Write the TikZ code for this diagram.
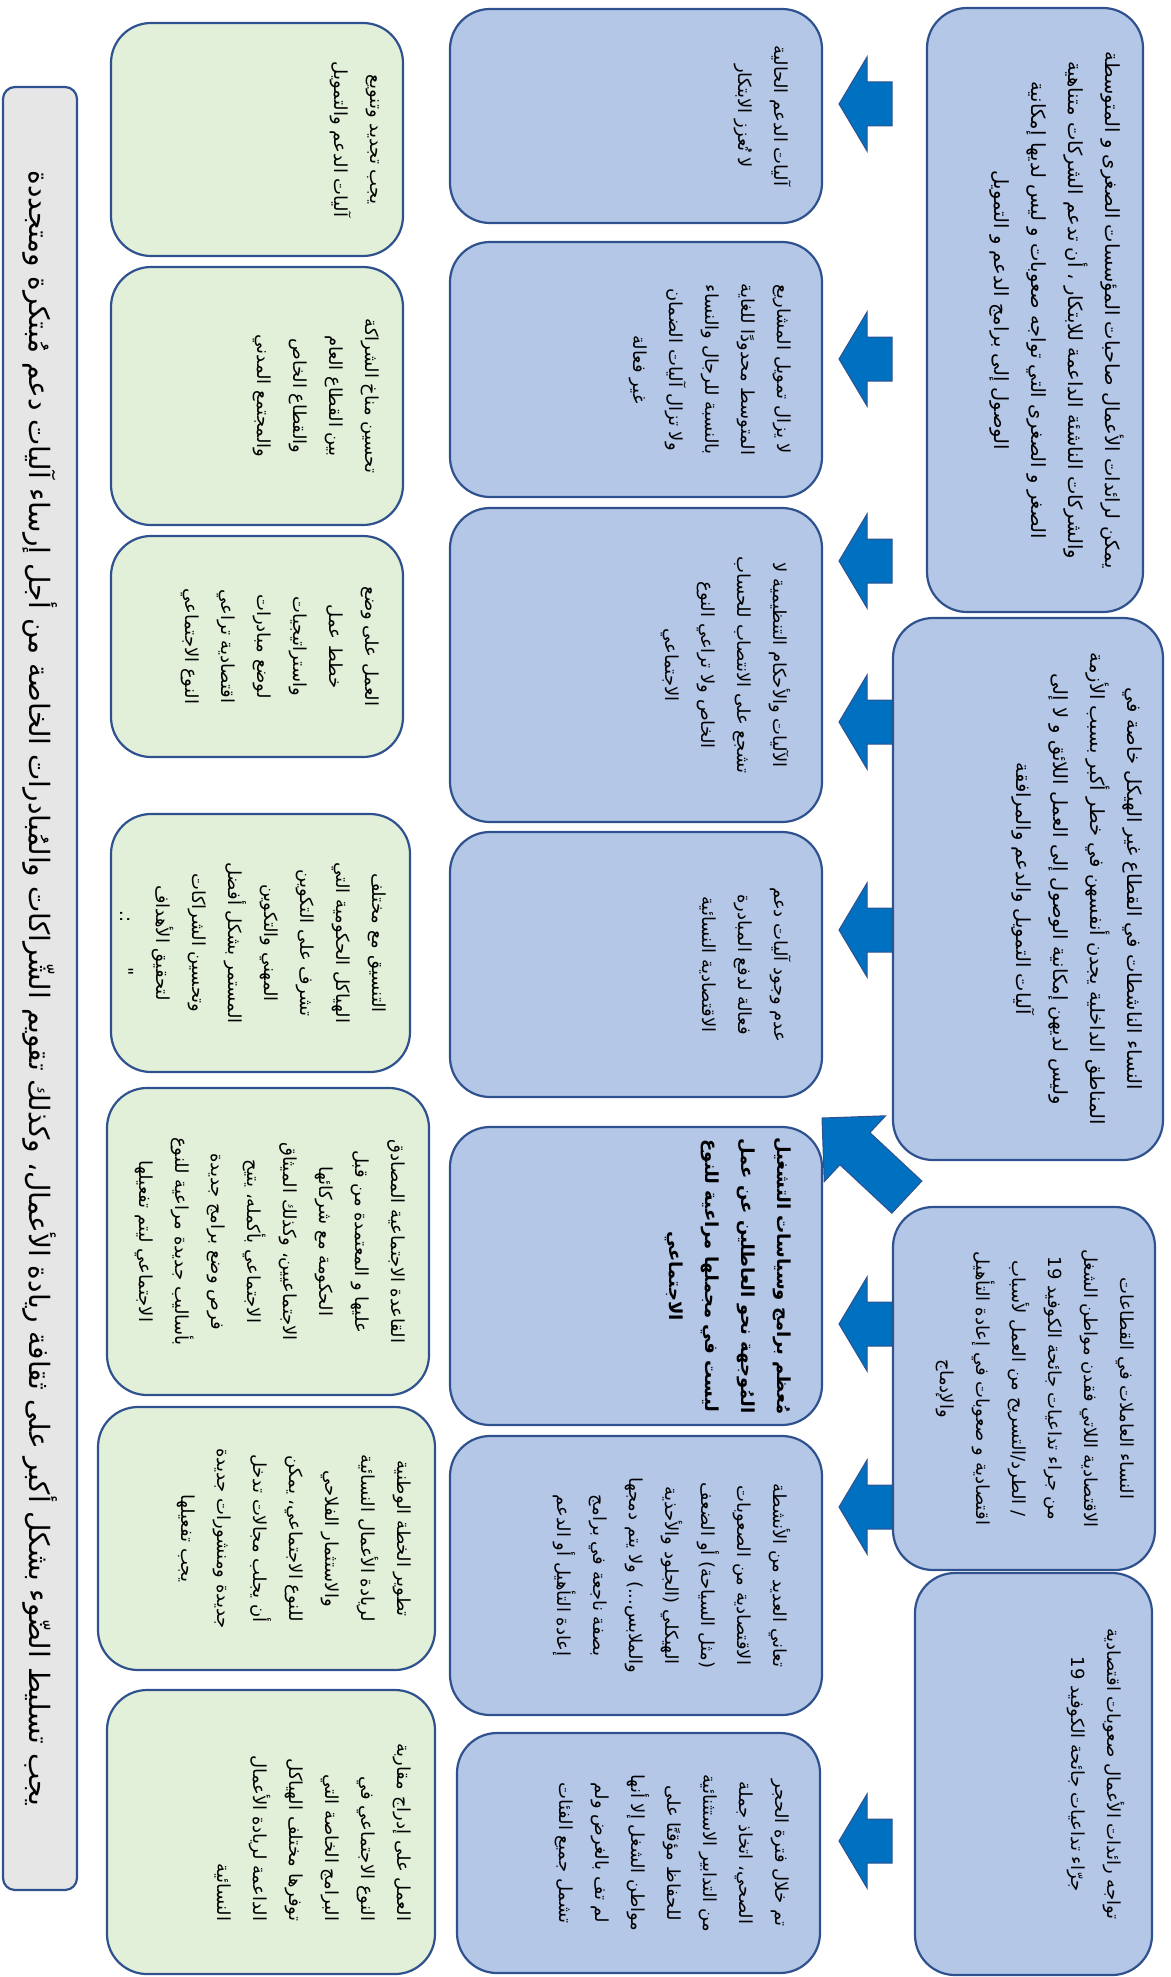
\documentclass[tikz,border=0pt]{standalone}
\usepackage{fontspec}
\usepackage{tikz}
\usetikzlibrary{calc}
\TeXXeTstate=1
\newfontfamily\arabicfont[Script=Arabic]{DejaVu Sans}
\definecolor{boxblue}{HTML}{B4C7E7}
\definecolor{boxgreen}{HTML}{E2F0D9}
\definecolor{boxgray}{HTML}{E7E6E6}
\definecolor{edgeblue}{HTML}{2F528F}
\definecolor{arrowblue}{HTML}{0070C0}
\definecolor{arrowedge}{HTML}{2F528F}
\newcommand{\ar}[1]{\beginR #1\endR}
% left-pointing block arrow, tip at (#1,#2)
\newcommand{\lftarrow}[2]{\path[blk] (#1,#2) -- ++(28,-47) -- ++(0,25) -- ++(25,0)
  -- ++(0,44) -- ++(-25,0) -- ++(0,25) -- cycle;}

\begin{document}
\begin{tikzpicture}[x=1pt, y=-1pt,
  card/.style={draw=edgeblue, line width=2.2pt, rounded corners=40pt, inner sep=0pt},
  bluecard/.style={card, fill=boxblue},
  greencard/.style={card, fill=boxgreen},
  txt/.style={rotate=-90, align=center, inner sep=0pt,
    font=\arabicfont\fontsize{18}{36}\selectfont},
  bigtxt/.style={txt, font=\arabicfont\fontsize{19.5}{37}\selectfont},
  blk/.style={fill=arrowblue, draw=arrowedge, line width=1pt}
]
  \useasboundingbox (0,0) rectangle (1170,1977);

  % Causes (right column)
  \node[bluecard, minimum width=216pt, minimum height=604pt] (r1) at (1035,310) {};
  \node[bluecard, minimum width=270pt, minimum height=542pt] (r2) at (1028,889) {};
  \node[bluecard, minimum width=262pt, minimum height=363pt] (r3) at (1024,1388.5) {};
  \node[bluecard, minimum width=237pt, minimum height=402pt] (r4) at (1033.5,1774) {};

  \node[bigtxt, anchor=north] (r1t) at ($(r1.east)+(-20,0)$)
    {\ar{يمكن لرائدات الأعمال صاحبات المؤسسات الصغرى و المتوسطة}\\
     \ar{والشركات الناشئة الداعمة للابتكار ، أن تدعم الشركات متناهية}\\
     \ar{الصغر و الصغرى التي تواجه صعوبات و ليس لديها إمكانية}\\
     \ar{الوصول إلى برامج الدعم و التمويل}};
  \node[bigtxt, anchor=north] (r2t) at ($(r2.east)+(-22,0)$)
    {\ar{النساء الناشطات في القطاع غير الهيكل خاصة في}\\
     \ar{المناطق الداخلية يجدن أنفسهن في خطر أكبر بسبب الأزمة}\\
     \ar{وليس لديهن إمكانية الوصول إلى العمل اللائق و لا إلى}\\
     \ar{آليات التمويل والدعم والمرافقة}};
  \node[txt, anchor=north] (r3t) at ($(r3.east)+(-22,0)$)
    {\ar{النساء العاملات في القطاعات}\\
     \ar{الاقتصادية اللاتي فقدن مواطن الشغل}\\
     \ar{من جراء تداعيات جائحة الكوفيد 19}\\
     \ar{/ الطرد/التسريح من العمل لأسباب}\\
     \ar{اقتصادية و صعوبات في إعادة التأهيل}\\
     \ar{والإدماج}};
  \node[txt, anchor=north] (r4t) at ($(r4.east)+(-28,0)$)
    {\ar{تواجه رائدات الأعمال صعوبات اقتصادية}\\
     \ar{جرّاء تداعيات جائحة الكوفيد 19}};

  % Problems (middle column)
  \node[bluecard, minimum width=372pt, minimum height=214pt] (m1) at (636,116) {};
  \node[bluecard, minimum width=372pt, minimum height=255pt] (m2) at (636,369.5) {};
  \node[bluecard, minimum width=372pt, minimum height=314pt] (m3) at (636,665) {};
  \node[bluecard, minimum width=372pt, minimum height=265pt] (m4) at (636,964.5) {};
  \node[bluecard, minimum width=372pt, minimum height=298pt] (m5) at (636,1276) {};
  \node[bluecard, minimum width=372pt, minimum height=279pt] (m6) at (636,1575.5) {};
  \node[bluecard, minimum width=363pt, minimum height=240pt] (m7) at (638.5,1853) {};

  \node[txt, anchor=north] (m1t) at ($(m1.east)+(-32,0)$)
    {\ar{آليات الدعم الحالية}\\ \ar{لا تُعزز الابتكار}};
  \node[txt, anchor=north] (m2t) at ($(m2.east)+(-32,0)$)
    {\ar{لا يزال تمويل المشاريع}\\ \ar{المتوسط محدودًا للغاية}\\
     \ar{بالنسبة للرجال والنساء}\\ \ar{ولا تزال آليات الضمان}\\ \ar{غير فعالة}};
  \node[txt, anchor=north] (m3t) at ($(m3.east)+(-32,0)$)
    {\ar{الآليات والأحكام التنظيمية لا}\\ \ar{تشجع على الانتصاب للحساب}\\
     \ar{الخاص ولا تراعي النوع}\\ \ar{الاجتماعي}};
  \node[txt, anchor=north] (m4t) at ($(m4.east)+(-32,0)$)
    {\ar{عدم وجود آليات دعم}\\ \ar{فعالة لدفع المبادرة}\\ \ar{الاقتصادية النسائية}};
  \node[txt, anchor=north, font=\arabicfont\bfseries\fontsize{18}{36}\selectfont] (m5t)
    at ($(m5.east)+(-32,0)$)
    {\ar{مُعظم برامج وسياسات التشغيل}\\ \ar{المُوجهة نحو العاطلين عن عمل}\\
     \ar{ليست في مجملها مراعية للنوع}\\ \ar{الاجتماعي}};
  \node[txt, anchor=north] (m6t) at ($(m6.east)+(-32,0)$)
    {\ar{تعاني العديد من الأنشطة}\\ \ar{الاقتصادية من الصعوبات}\\
     \ar{(مثل السياحة) أو الضعف}\\ \ar{الهيكلي (الجلود والأحذية}\\
     \ar{والملابس...) ولا يتم دمجها}\\ \ar{بصفة ناجعة في برامج}\\
     \ar{إعادة التأهيل أو الدعم}};
  \node[txt, anchor=north] (m7t) at ($(m7.east)+(-32,0)$)
    {\ar{تم خلال فترة الحجر}\\ \ar{الصحي، اتخاذ جملة}\\ \ar{من التدابير الاستثنائية}\\
     \ar{للحفاظ مؤقتًا على}\\ \ar{مواطن الشغل إلا أنها}\\ \ar{لم تف بالغرض ولم}\\
     \ar{تشمل جميع الفئات}};

  % Proposals (green column)
  \node[greencard, minimum width=292pt, minimum height=233pt] (g1) at (257,139.5) {};
  \node[greencard, minimum width=292pt, minimum height=258pt] (g2) at (257,396) {};
  \node[greencard, minimum width=292pt, minimum height=221pt] (g3) at (257,646.5) {};
  \node[greencard, minimum width=299pt, minimum height=258pt] (g4) at (260.5,943) {};
  \node[greencard, minimum width=322pt, minimum height=307pt] (g5) at (268,1241.5) {};
  \node[greencard, minimum width=337pt, minimum height=263pt] (g6) at (266.5,1538.5) {};
  \node[greencard, minimum width=328pt, minimum height=284pt] (g7) at (271,1832) {};

  \node[txt, anchor=north] (g1t) at ($(g1.east)+(-25,0)$)
    {\ar{يجب تجديد وتنويع}\\ \ar{آليات الدعم والتمويل}};
  \node[txt, anchor=north] (g2t) at ($(g2.east)+(-25,0)$)
    {\ar{تحسين مناخ الشراكة}\\ \ar{بين القطاع العام}\\ \ar{والقطاع الخاص}\\
     \ar{والمجتمع المدني}};
  \node[txt, anchor=north] (g3t) at ($(g3.east)+(-25,0)$)
    {\ar{العمل على وضع}\\ \ar{خطط عمل}\\ \ar{واستراتيجيات}\\ \ar{لوضع مبادرات}\\
     \ar{اقتصادية تراعي}\\ \ar{النوع الاجتماعي}};
  \node[txt, anchor=north] (g4t) at ($(g4.east)+(-25,0)$)
    {\ar{التنسيق مع مختلف}\\ \ar{الهياكل الحكومية التي}\\ \ar{تشرف على التكوين}\\
     \ar{المهني والتكوين}\\ \ar{المستمر بشكل أفضل}\\ \ar{وتحسين الشراكات}\\
     \ar{لتحقيق الأهداف}\\ \ar{"\hspace{45pt}:.}};
  \node[txt, anchor=north] (g5t) at ($(g5.east)+(-25,0)$)
    {\ar{القاعدة الاجتماعية المصادق}\\ \ar{عليها و المعتمدة من قبل}\\
     \ar{الحكومة مع شركائها}\\ \ar{الاجتماعيين، وكذلك الميثاق}\\
     \ar{الاجتماعي بأكمله، يتيح}\\ \ar{فرص وضع برامج جديدة}\\
     \ar{بأساليب جديدة مراعية للنوع}\\ \ar{الاجتماعي ليتم تفعيلها}};
  \node[txt, anchor=north] (g6t) at ($(g6.east)+(-25,0)$)
    {\ar{تطوير الخطة الوطنية}\\ \ar{لريادة الأعمال النسائية}\\ \ar{والاستثمار الفلاحي}\\
     \ar{للنوع الاجتماعي، يمكن}\\ \ar{أن يجلب مجالات تدخل}\\
     \ar{جديدة ومنشورات جديدة}\\ \ar{يجب تفعيلها}};
  \node[txt, anchor=north, align=right] (g7t) at ($(g7.east)+(-25,0)$)
    {\ar{العمل على إدراج مقاربة}\\ \ar{النوع الاجتماعي في}\\ \ar{البرامج الخاصة التي}\\
     \ar{توفرها مختلف الهياكل}\\ \ar{الداعمة لريادة الأعمال}\\ \ar{النسائية}};

  % Conclusion strip
  \node[card, fill=boxgray, rounded corners=12pt, minimum width=74pt,
    minimum height=1803pt] (ttl) at (40,988.5) {};
  \node[txt, font=\arabicfont\fontsize{28}{34}\selectfont] (ttlt) at (ttl.center)
    {\ar{يجب تسليط الضّوء بشكل أكبر على ثقافة ريادة الأعمال، وكذلك تقويم الشّراكات والمُبادرات الخاصة من أجل إرساء آليات دعم مُبتكرة ومتجددة}};

  % Arrows
  \foreach \y in {104,359,561,722,930,1324,1507,1841}
    {\lftarrow{839}{\y}}
  \begin{scope}[shift={(822,1118)}, rotate=-43]
    \path[blk] (0,0) -- (45,-45) -- (45,-22) -- (116,-22) -- (116,22)
      -- (45,22) -- (45,45) -- cycle;
  \end{scope}
\end{tikzpicture}
\end{document}
